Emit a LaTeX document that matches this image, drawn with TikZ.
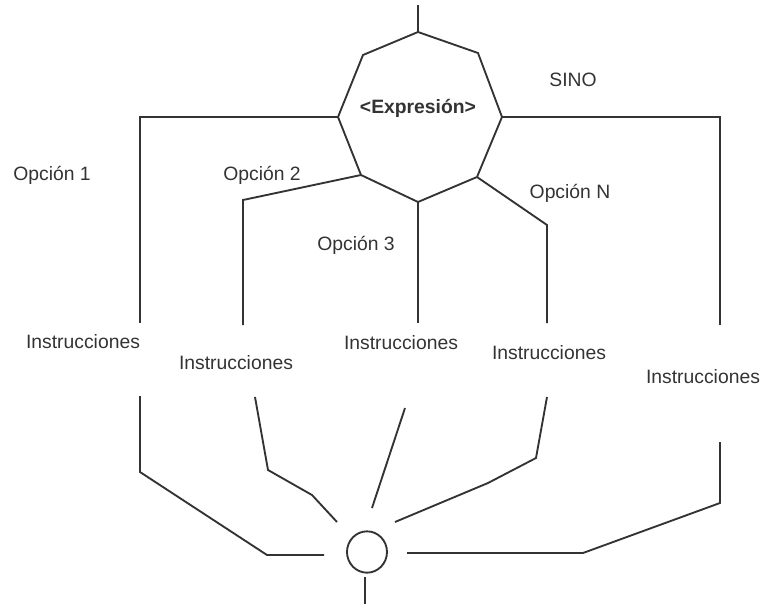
\documentclass[tikz,border=0pt]{standalone}
\usepackage{fontspec}
\setmainfont{Liberation Sans}
\usetikzlibrary{shapes.geometric}
\definecolor{ink}{HTML}{333333}
\tikzset{
  wire/.style={draw=ink, line width=1.4pt, line join=miter},
  lbl/.style={text=ink, inner sep=0pt, font=\fontsize{14.5}{17}\selectfont},
  expr/.style={text=ink, inner sep=0pt, font=\fontsize{14.5}{17}\selectfont\bfseries},
}
\begin{document}
\begin{tikzpicture}[x=0.75pt,y=-0.75pt]
\useasboundingbox (0,0) rectangle (765,604);
% octagon vertices
\coordinate (vT) at (418,32);
\coordinate (vUL) at (363,55);
\coordinate (vUR) at (478,53);
\coordinate (vL) at (338,117);
\coordinate (vR) at (502,117);
\coordinate (vLL) at (361,175);
\coordinate (vLR) at (477,177);
\coordinate (vB) at (418,202);
\draw[wire] (vT) -- (vUR) -- (vR) -- (vLR) -- (vB) -- (vLL) -- (vL) -- (vUL) -- cycle;
\node[expr] (exp) at (418,108) {<Expresión>};
\coordinate (top) at (418,5);
\draw[wire] (top) -- (vT);

% labels
\node[lbl] (o1) at (52,175) {Opción 1};
\node[lbl] (o2) at (262,175) {Opción 2};
\node[lbl] (o3) at (356,245) {Opción 3};
\node[lbl] (on) at (570,193) {Opción N};
\node[lbl] (sino) at (573,80) {SINO};

\node[lbl] (i1) at (83,342) {Instrucciones};
\node[lbl] (i2) at (236,363) {Instrucciones};
\node[lbl] (i3) at (401,343) {Instrucciones};
\node[lbl] (i4) at (549,353) {Instrucciones};
\node[lbl] (i5) at (703,377) {Instrucciones};

% upper branch ends
\coordinate (a1) at (140,323);
\coordinate (a2) at (243,325);
\coordinate (a3) at (418,323);
\coordinate (a4) at (547,323);
\coordinate (a5) at (720,325);
\draw[wire] (vL) -- (140,117) -- (a1);
\draw[wire] (vLL) -- (243,200) -- (a2);
\draw[wire] (vB) -- (a3);
\draw[wire] (vLR) -- (547,225) -- (a4);
\draw[wire] (vR) -- (720,117) -- (a5);

% join circle
\node[draw=ink, line width=1.4pt, ellipse, inner sep=0pt,
      minimum width=30pt, minimum height=31pt] (j) at (367,552) {};
\coordinate (jb) at (365,577);
\coordinate (bot) at (365,604);
\draw[wire] (jb) -- (bot);

% lower branch starts and ends
\coordinate (b1) at (140,396);
\coordinate (b2) at (255,397);
\coordinate (b3) at (405,408);
\coordinate (b4) at (547,397);
\coordinate (b5) at (720,442);
\coordinate (e1) at (324,555);
\coordinate (e2) at (337,522);
\coordinate (e3) at (372,508);
\coordinate (e4) at (395,522);
\coordinate (e5) at (407,553);
\draw[wire] (b1) -- (140,472) -- (267,555) -- (e1);
\draw[wire] (b2) -- (268,470) -- (312,495) -- (e2);
\draw[wire] (b3) -- (e3);
\draw[wire] (b4) -- (536,458) -- (488,483) -- (e4);
\draw[wire] (b5) -- (720,503) -- (583,553) -- (e5);
\end{tikzpicture}
\end{document}
